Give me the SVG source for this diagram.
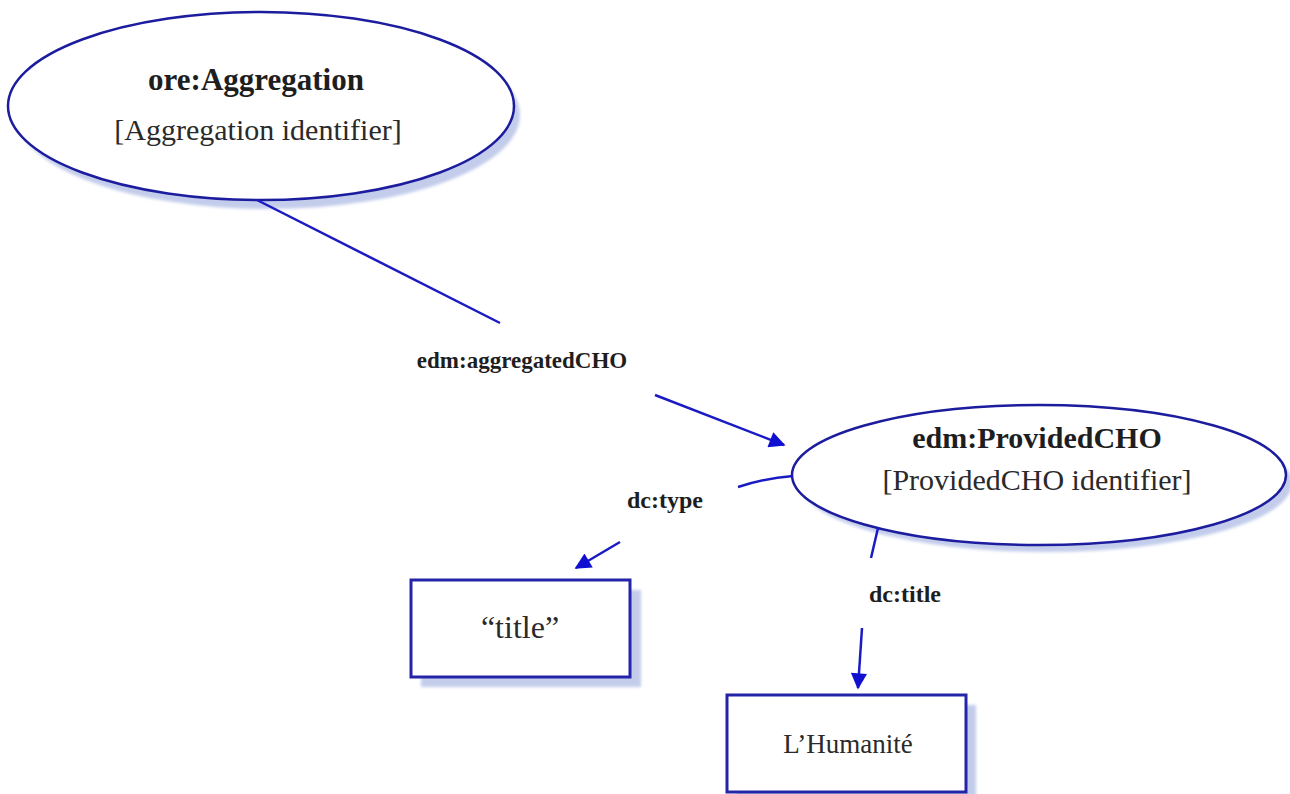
<svg xmlns="http://www.w3.org/2000/svg" width="1290" height="794" viewBox="0 0 1290 794">
  <style>
    .shadow { fill: #c3cdeb; stroke: none; }
    .node { fill: #ffffff; stroke: #1c1c9e; stroke-width: 2.5; }
    .box { fill: #ffffff; stroke: #2424a8; stroke-width: 3; }
    .edge { fill: none; stroke: #1b1bc4; stroke-width: 2.5; }
    .title { font-family: "Liberation Serif", "DejaVu Serif", serif; font-weight: bold; fill: #1e1e1e; text-anchor: middle; }
    .ident { font-family: "Liberation Serif", "DejaVu Serif", serif; fill: #2a2a2a; text-anchor: middle; }
    .label { font-family: "Liberation Serif", "DejaVu Serif", serif; font-weight: bold; fill: #1e1e1e; text-anchor: middle; }
  </style>
  <defs>
    <filter id="soft" x="-10%" y="-10%" width="120%" height="120%">
      <feGaussianBlur stdDeviation="1.5"/>
    </filter>
    <marker id="arrow" viewBox="0 0 10 10" refX="9" refY="5" markerWidth="8" markerHeight="6.5" markerUnits="strokeWidth" orient="auto">
      <path d="M0,0 L10,5 L0,10 Z" fill="#1010d0"/>
    </marker>
  </defs>

  <rect width="1290" height="794" fill="#ffffff"/>

  <g id="aggregation">
    <ellipse class="shadow" cx="268" cy="115" rx="252" ry="94" filter="url(#soft)"/>
    <ellipse class="node" cx="261" cy="106" rx="253" ry="94"/>
    <text class="title" x="256" y="90" font-size="31">ore:Aggregation</text>
    <text class="ident" x="258" y="140" font-size="30">[Aggregation identifier]</text>
  </g>

  <g id="provided-cho">
    <ellipse class="shadow" cx="1046" cy="483" rx="246" ry="69" filter="url(#soft)"/>
    <ellipse class="node" cx="1039" cy="475" rx="247" ry="70"/>
    <text class="title" x="1037" y="448" font-size="30">edm:ProvidedCHO</text>
    <text class="ident" x="1037" y="490" font-size="30">[ProvidedCHO identifier]</text>
  </g>

  <g id="literal-title">
    <rect class="shadow" x="421" y="590" width="220" height="97" filter="url(#soft)"/>
    <rect class="box" x="411" y="580" width="219" height="97"/>
    <text class="ident" x="520" y="638" font-size="32" fill="#222">“title”</text>
  </g>

  <g id="literal-humanite">
    <rect class="shadow" x="737" y="705" width="239" height="97" filter="url(#soft)"/>
    <rect class="box" x="727" y="695" width="239" height="97"/>
    <text class="ident" x="848" y="753" font-size="27">L’Humanité</text>
  </g>

  <!-- relations, drawn over the node shadows -->
  <g id="connectors">
    <line class="edge" x1="257" y1="200" x2="500" y2="323"/>
    <line class="edge" x1="655" y1="395" x2="784" y2="445" marker-end="url(#arrow)"/>
    <path class="edge" d="M793,476 Q765,478 738,487"/>
    <line class="edge" x1="878" y1="528" x2="871" y2="558"/>
    <line class="edge" x1="620" y1="542" x2="576" y2="568" marker-end="url(#arrow)"/>
    <line class="edge" x1="862" y1="628" x2="858" y2="688" marker-end="url(#arrow)"/>
    <text class="label" x="522" y="368" font-size="23">edm:aggregatedCHO</text>
    <text class="label" x="665" y="508" font-size="24">dc:type</text>
    <text class="label" x="905" y="602" font-size="24">dc:title</text>
  </g>
</svg>
